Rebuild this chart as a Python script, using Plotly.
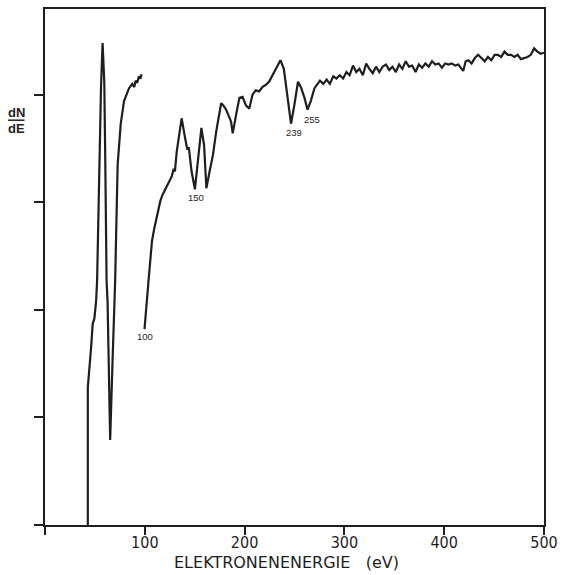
import plotly.graph_objects as go

# ---- data (energy in eV, dN/dE in tick units) ----
seg1_energy = [42.9, 42.9, 46.2, 47.8, 49.5, 51.2, 52.2, 54.5, 56.1, 57.7, 59.4, 60.4,
               61.7, 62.7, 65.3, 67.6, 70.3, 72.8, 75.9, 79.2, 84.2, 87.4, 89.5, 90.8,
               92.4, 94.1, 95.7, 96.7]
seg1_dnde = [0.0, 1.28, 1.65, 1.87, 1.92, 2.08, 2.27, 3.38, 4.06, 4.48, 4.12, 3.38,
             2.27, 2.08, 0.79, 1.50, 2.27, 3.35, 3.73, 3.94, 4.06, 4.10, 4.07, 4.13,
             4.11, 4.17, 4.15, 4.19]

seg2_energy = [99.7, 100.7, 102.3, 104.0, 105.6, 107.2, 109.6, 111.6, 115.5, 117.8,
               120.5, 123.8, 127.0, 128.7, 130.2, 132.0, 136.9, 140.3, 142.6, 144.1,
               146.8, 150.2, 153.5, 156.7, 159.4, 161.7, 165.0, 168.3, 171.6, 174.3,
               176.5, 178.7, 181.5, 186.4, 188.1, 191.4, 194.8, 198.0, 199.5, 201.3,
               204.7, 207.9, 211.2, 214.6, 217.8, 221.1, 224.5, 227.7, 232.7, 235.9,
               239.3, 242.6, 246.5, 249.8, 253.5, 256.4, 259.7, 263.1, 266.3, 270.0,
               272.3, 275.5, 278.9, 282.2, 285.4, 288.8, 292.1, 295.3, 298.7, 302.0,
               305.2, 308.6, 311.9, 315.1, 318.5, 321.8, 325.0, 328.4, 331.7, 335.0,
               338.3, 341.6, 344.9, 348.2, 351.5, 354.8, 358.1, 361.4, 364.7, 368.0,
               371.3, 374.6, 377.9, 381.2, 384.5, 387.8, 391.1, 394.4, 397.7, 401.0,
               404.3, 407.6, 410.9, 414.2, 417.5, 419.1, 421.5, 424.1, 427.4, 430.7,
               434.0, 437.3, 440.6, 443.9, 447.2, 450.5, 453.8, 457.1, 460.4, 463.7,
               467.0, 470.3, 473.6, 476.9, 480.2, 483.5, 486.8, 490.1, 493.4, 496.7,
               500.0]
seg2_dnde = [1.82, 1.96, 2.11, 2.30, 2.48, 2.64, 2.76, 2.85, 3.01, 3.07,
             3.12, 3.19, 3.24, 3.30, 3.29, 3.47, 3.78, 3.60, 3.49, 3.51,
             3.29, 3.12, 3.44, 3.69, 3.53, 3.13, 3.29, 3.44, 3.66, 3.81,
             3.92, 3.90, 3.86, 3.75, 3.64, 3.81, 3.97, 3.98, 3.94, 3.90,
             3.87, 4.00, 4.04, 4.03, 4.07, 4.09, 4.12, 4.18, 4.27, 4.32,
             4.24, 4.00, 3.73, 3.90, 4.12, 4.07, 3.98, 3.86, 3.94, 4.06,
             4.09, 4.13, 4.10, 4.14, 4.10, 4.17, 4.15, 4.18, 4.15, 4.21,
             4.18, 4.27, 4.21, 4.24, 4.18, 4.29, 4.24, 4.20, 4.26, 4.21,
             4.26, 4.28, 4.23, 4.26, 4.21, 4.28, 4.24, 4.31, 4.26, 4.27,
             4.21, 4.28, 4.25, 4.29, 4.26, 4.31, 4.28, 4.29, 4.25, 4.29,
             4.28, 4.29, 4.27, 4.28, 4.24, 4.22, 4.31, 4.32, 4.29, 4.34,
             4.37, 4.34, 4.31, 4.35, 4.32, 4.37, 4.37, 4.35, 4.40, 4.37,
             4.37, 4.35, 4.37, 4.33, 4.34, 4.35, 4.37, 4.43, 4.40, 4.38,
             4.39]

peak_labels = ["100", "150", "239", "255"]
peak_label_x = [100.5, 151.0, 249.0, 267.5]
peak_label_y = [1.75, 3.04, 3.65, 3.77]

x_tick_vals = [0, 100, 200, 300, 400, 500]
x_tick_text = ["", "100", "200", "300", "400", "500"]
y_tick_vals = [0, 1, 2, 3, 4]

INK = "#1e1e1e"

fig = go.Figure()
for ex, ey in [(seg1_energy, seg1_dnde), (seg2_energy, seg2_dnde)]:
    fig.add_trace(go.Scatter(x=ex, y=ey, mode="lines",
                             line=dict(color=INK, width=2.2), showlegend=False,
                             hoverinfo="skip"))

for t, xv, yv in zip(peak_labels, peak_label_x, peak_label_y):
    fig.add_annotation(x=xv, y=yv, xref="x", yref="y", text=t, showarrow=False,
                       font=dict(family="Liberation Sans", size=9.5, color=INK))

# axis title (letter-spaced look) and y label as fraction
fig.add_annotation(x=0.483, y=-0.0734, xref="paper", yref="paper",
                   text="ELEKTRONENENERGIE\u00a0\u00a0\u00a0(eV)", showarrow=False,
                   xanchor="center", yanchor="middle",
                   font=dict(family="DejaVu Sans", size=16, color=INK))
fig.add_annotation(x=-0.0574, y=0.800, xref="paper", yref="paper", text="dN",
                   showarrow=False, xanchor="center", yanchor="middle",
                   font=dict(family="Liberation Sans", size=13, color=INK, weight="bold"))
fig.add_annotation(x=-0.0574, y=0.769, xref="paper", yref="paper", text="dE",
                   showarrow=False, xanchor="center", yanchor="middle",
                   font=dict(family="Liberation Sans", size=13, color=INK, weight="bold"))
fig.add_shape(type="line", xref="paper", yref="paper", x0=-0.074, x1=-0.041,
              y0=0.7845, y1=0.7845, line=dict(color=INK, width=1.5))

fig.update_layout(
    width=565, height=575, autosize=False,
    margin=dict(l=45, r=15, t=7, b=50),
    paper_bgcolor="white", plot_bgcolor="white",
    xaxis=dict(range=[0, 500], showgrid=False, zeroline=False, showline=True,
               mirror=True, linecolor=INK, linewidth=2, ticks="outside",
               ticklen=8, tickwidth=2, tickcolor=INK, tickvals=x_tick_vals,
               ticktext=x_tick_text, ticklabelstandoff=-6,
               tickfont=dict(family="Liberation Sans Narrow, DejaVu Sans Condensed, Liberation Sans",
                             size=16, color=INK)),
    yaxis=dict(range=[0, 4.796], showgrid=False, zeroline=False, showline=True,
               mirror=True, linecolor=INK, linewidth=2, ticks="outside",
               ticklen=9, tickwidth=2, tickcolor=INK, tickvals=y_tick_vals,
               showticklabels=False),
)

fig.write_html("out.html")
